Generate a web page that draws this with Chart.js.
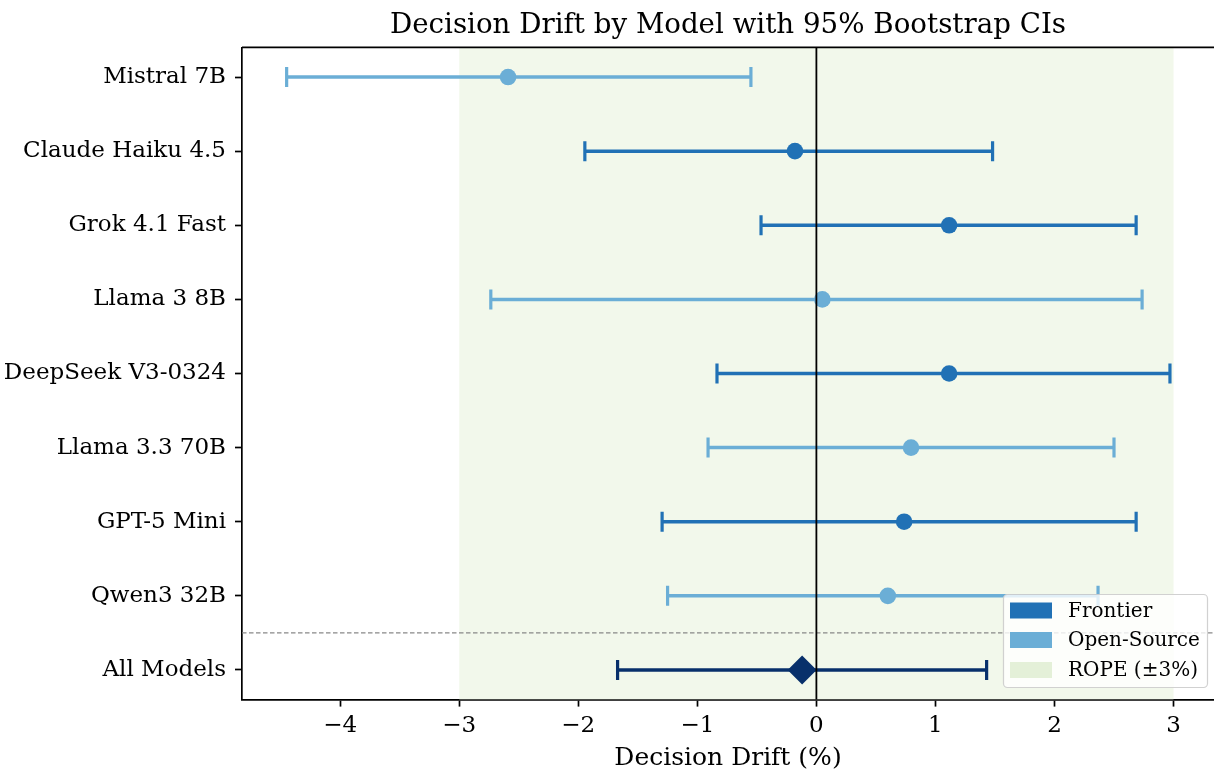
<!DOCTYPE html>
<html>
<head>
<meta charset="utf-8">
<script src="https://cdn.jsdelivr.net/npm/chart.js@4.4.1/dist/chart.umd.min.js"></script>
<style>
html,body{margin:0;padding:0;background:#fff;}
#wrap{width:1214px;height:770px;position:relative;}
</style>
</head>
<body>
<div id="wrap"><canvas id="c" width="1214" height="770"></canvas></div>
<script>
// ---- data ----
const models = ['Mistral 7B','Claude Haiku 4.5','Grok 4.1 Fast','Llama 3 8B','DeepSeek V3-0324','Llama 3.3 70B','GPT-5 Mini','Qwen3 32B','All Models'];
const groups = ['Open-Source','Frontier','Frontier','Open-Source','Frontier','Open-Source','Frontier','Open-Source','Overall'];
const drift  = [-2.59, -0.18, 1.115, 0.05, 1.115, 0.795, 0.737, 0.60, -0.12];
const ciLow  = [-4.45, -1.945, -0.465, -2.735, -0.835, -0.91, -1.296, -1.25, -1.67];
const ciHigh = [-0.55, 1.48, 2.686, 2.736, 2.97, 2.50, 2.686, 2.366, 1.43];
const xTicks = [-4, -3, -2, -1, 0, 1, 2, 3];
const ropeRange = [-3, 3];
const separatorAt = 0.5;
const legendItems = ['Frontier', 'Open-Source', 'ROPE (\u00b13%)'];

// ---- styles ----
const FONT = "'DejaVu Serif', serif";
const COLORS = {'Frontier':'#2171b5', 'Open-Source':'#6baed6', 'Overall':'#08306b'};
const ROPE_FILL = '#f2f8eb';
const ROPE_LEGEND = '#e4f0d8';

const n = models.length;
const yPos = models.map((_, i) => n - 1 - i);

const barSets = models.map((m, i) => {
  const c = COLORS[groups[i]];
  return {
    label: m,
    data: [{x: ciLow[i], y: yPos[i]}, {x: ciHigh[i], y: yPos[i]}],
    showLine: true,
    borderColor: c,
    borderWidth: 3.5,
    pointStyle: 'line',
    rotation: 90,
    pointRadius: 10,
    pointHoverRadius: 10,
    pointBorderWidth: 3.2,
    pointBorderColor: c,
    pointBackgroundColor: c,
    order: 2
  };
});

const pointSet = {
  label: 'estimate',
  data: models.map((m, i) => ({x: drift[i], y: yPos[i]})),
  showLine: false,
  pointStyle: groups.map(g => g === 'Overall' ? 'rectRot' : 'circle'),
  pointRadius: groups.map(g => g === 'Overall' ? 14.5 : 8.3),
  pointHoverRadius: groups.map(g => g === 'Overall' ? 14.5 : 8.3),
  pointBackgroundColor: groups.map(g => COLORS[g]),
  pointBorderColor: groups.map(g => COLORS[g]),
  pointBorderWidth: 0,
  order: 0
};

const decor = {
  id: 'decor',
  beforeDatasetsDraw(chart) {
    const {ctx, chartArea: a, scales: {x, y}} = chart;
    ctx.save();
    ctx.beginPath();
    ctx.rect(a.left, a.top, a.right - a.left, a.bottom - a.top);
    ctx.clip();
    const x0 = x.getPixelForValue(ropeRange[0]);
    const x1 = x.getPixelForValue(ropeRange[1]);
    ctx.fillStyle = ROPE_FILL;
    ctx.fillRect(x0, a.top, x1 - x0, a.bottom - a.top);
    const ys = y.getPixelForValue(separatorAt);
    ctx.strokeStyle = '#888';
    ctx.lineWidth = 1.2;
    ctx.setLineDash([4.5, 2.5]);
    ctx.beginPath();
    ctx.moveTo(a.left, ys);
    ctx.lineTo(a.right, ys);
    ctx.stroke();
    ctx.restore();
  },
  afterDatasetsDraw(chart) {
    const {ctx, chartArea: a, scales: {x}} = chart;
    const xz = x.getPixelForValue(0);
    ctx.save();
    ctx.strokeStyle = '#000';
    ctx.lineWidth = 1.8;
    ctx.beginPath();
    ctx.moveTo(xz, a.top);
    ctx.lineTo(xz, a.bottom);
    ctx.stroke();
    ctx.restore();
  },
  afterDraw(chart) {
    const {ctx, chartArea: a} = chart;
    ctx.save();
    // top spine (right spine falls on the image edge)
    ctx.strokeStyle = '#000';
    ctx.lineWidth = 1.7;
    ctx.beginPath();
    ctx.moveTo(a.left, a.top);
    ctx.lineTo(a.right, a.top);
    ctx.stroke();
    const cx = (a.left + a.right) / 2;
    // title
    ctx.fillStyle = '#000';
    ctx.textAlign = 'center';
    ctx.textBaseline = 'alphabetic';
    ctx.font = "27.7px " + FONT;
    ctx.fillText('Decision Drift by Model with 95% Bootstrap CIs', cx, 33);
    // x label
    ctx.font = "25px " + FONT;
    ctx.fillText('Decision Drift (%)', cx, 765);
    // legend
    const bx = 1003.5, by = 594.5, bw = 204, bh = 93;
    ctx.beginPath();
    ctx.roundRect(bx, by, bw, bh, 4);
    ctx.fillStyle = 'rgba(255,255,255,0.8)';
    ctx.fill();
    ctx.strokeStyle = 'rgba(204,204,204,0.9)';
    ctx.lineWidth = 1.2;
    ctx.stroke();
    const rowY = [610.5, 640, 670];
    const fills = [COLORS['Frontier'], COLORS['Open-Source'], ROPE_LEGEND];
    ctx.font = "20px " + FONT;
    ctx.textAlign = 'left';
    ctx.textBaseline = 'middle';
    legendItems.forEach((t, i) => {
      ctx.fillStyle = fills[i];
      ctx.fillRect(1010, rowY[i] - 8, 42, 16);
      ctx.fillStyle = '#000';
      ctx.fillText(t, 1068, rowY[i] + 1);
    });
    ctx.restore();
  }
};

const axisCommon = {
  type: 'linear',
  grid: {drawOnChartArea: false, drawTicks: true, tickLength: 7, tickWidth: 1.7, tickColor: '#000'},
  border: {display: true, color: '#000', width: 1.7}
};

new Chart(document.getElementById('c'), {
  type: 'scatter',
  data: {datasets: [pointSet, ...barSets]},
  options: {
    responsive: false,
    animation: false,
    devicePixelRatio: 1,
    events: [],
    layout: {autoPadding: false, padding: {top: 47.4, right: 0, bottom: 0, left: 0}},
    plugins: {legend: {display: false}, title: {display: false}, tooltip: {enabled: false}},
    scales: {
      x: Object.assign({}, axisCommon, {
        position: 'bottom',
        min: -4.825, max: 3.34,
        afterBuildTicks: s => { s.ticks = xTicks.map(v => ({value: v})); },
        afterFit: s => { s.height = 70.4; s.paddingLeft = 0; s.paddingRight = 0; },
        ticks: {
          autoSkip: false, maxRotation: 0, padding: 6, color: '#000',
          font: {family: FONT, size: 23},
          callback: v => String(v).replace('-', '\u2212')
        }
      }),
      y: Object.assign({}, axisCommon, {
        position: 'left',
        min: -0.4, max: n - 1 + 0.4,
        afterBuildTicks: s => { s.ticks = yPos.slice().sort((a, b) => a - b).map(v => ({value: v})); },
        afterFit: s => { s.width = 242; s.paddingTop = 0; s.paddingBottom = 0; },
        ticks: {
          autoSkip: false, padding: 9, color: '#000',
          font: {family: FONT, size: 23},
          callback: v => models[n - 1 - v]
        }
      })
    }
  },
  plugins: [decor]
});
</script>
</body>
</html>
